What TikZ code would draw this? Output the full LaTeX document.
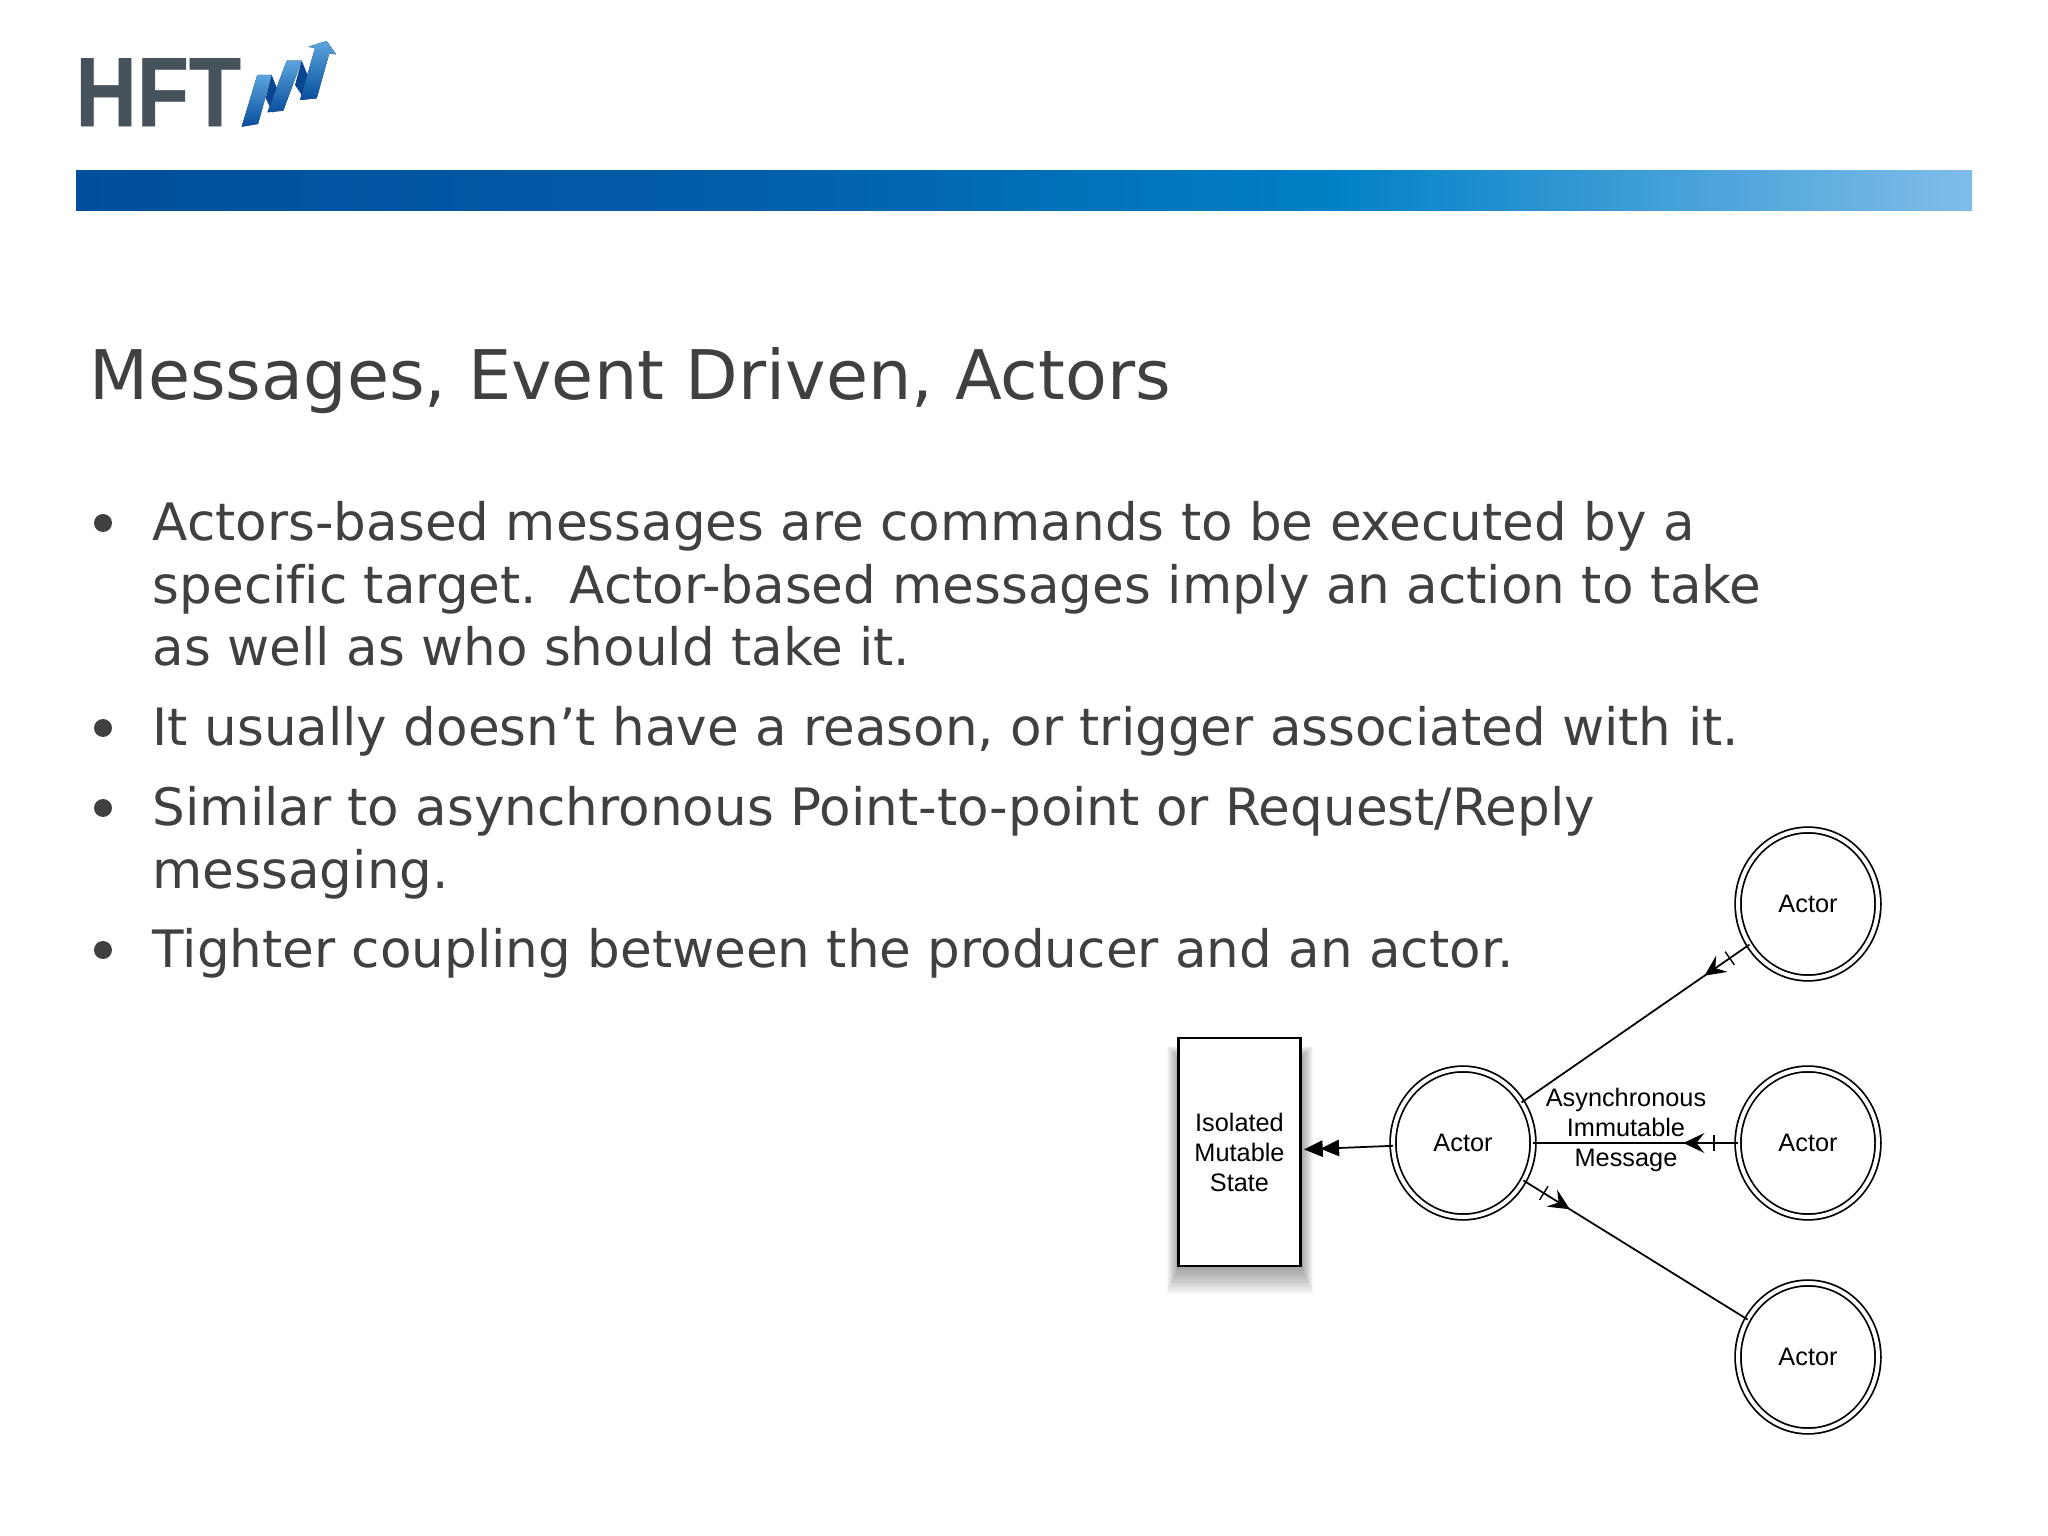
\documentclass[tikz,border=0pt]{standalone}
\usepackage{fontspec}
\setmainfont[Ligatures=NoCommon]{DejaVu Sans}
\newfontfamily\labelfont{Liberation Sans}
\newfontfamily\logofont[FakeBold=0.6]{Liberation Sans Bold}
\usetikzlibrary{arrows.meta,decorations.markings,shapes.geometric}

\pgfdeclarehorizontalshading{barshade}{100bp}{
  rgb(0bp)=(0,0.31,0.61);
  rgb(25bp)=(0,0.31,0.61);
  rgb(42bp)=(0.01,0.36,0.66);
  rgb(58bp)=(0,0.5,0.78);
  rgb(75bp)=(0.5,0.74,0.91);
  rgb(100bp)=(0.5,0.74,0.91)}

\definecolor{slidetext}{RGB}{64,64,64}
\definecolor{logotext}{RGB}{70,82,92}

\tikzset{
  titletext/.style={anchor=north west,inner sep=0.75pt,align=left,text=slidetext,font=\fontsize{29.2}{36}\selectfont},
  bodytext/.style={anchor=north west,inner sep=0.75pt,align=left,text=slidetext,font=\fontsize{22}{26.76}\selectfont},
  dotmark/.style={circle,fill=slidetext,inner sep=0pt,minimum size=0.27cm},
  actor/.style={ellipse,draw,double,line width=0.75pt,double distance=1.7pt,minimum width=2.1cm,minimum height=2.22cm,inner sep=0pt,outer sep=0pt,font=\labelfont\fontsize{10.8}{12.8}\selectfont},
  statebox/.style={rectangle,draw,line width=0.95pt,fill=white,minimum width=1.83cm,minimum height=3.42cm,inner sep=0pt,align=center,font=\labelfont\fontsize{10.8}{12.8}\selectfont},
  msglabel/.style={inner sep=0.75pt,align=center,font=\labelfont\fontsize{10.8}{12.8}\selectfont},
  msgline/.style={line width=0.75pt,postaction={decorate},decoration={markings,
    mark=at position 0.36cm with {\draw[line width=0.6pt] (0,-3.4pt) -- (0,3.4pt);},
    mark=at position 0.82cm with {\arrow{Stealth[length=9pt,width=8.5pt,inset=3.4pt]}}}},
  ribbonup/.style={bottom color={rgb,255:red,8;green,78;blue,158},top color={rgb,255:red,90;green,165;blue,222}},
  ribbondown/.style={fill={rgb,255:red,8;green,70;blue,145}}
}

\begin{document}
\begin{tikzpicture}[x=0.015cm, y=-0.015cm]
\useasboundingbox (0,0) rectangle (2048,1536);

\draw (75,58) node (logo) [anchor=north west,inner sep=0pt,text=logotext,font=\logofont\fontsize{42}{42}\selectfont] {\scalebox{0.865}[1]{HFT}};

\fill [ribbonup] (241.7,126.7) -- (257.3,75) -- (271.7,75) -- (258,124) -- cycle;
\fill [ribbondown] (271.7,75) -- (278.3,91.7) -- (272.7,112.7) -- (265.7,98.3) -- cycle;
\fill [ribbonup] (267.5,112.3) -- (286.7,60.7) -- (301.7,60.7) -- (283.3,110.7) -- cycle;
\fill [ribbondown] (301.7,60.7) -- (308.3,76.7) -- (305,100) -- (295,85) -- cycle;
\fill [ribbonup] (300,100) -- (315,48.3) -- (308.3,46.7) -- (326.7,41) -- (336,54.3) -- (329.3,53.3) -- (316.7,98.3) -- cycle;

\fill [shading=barshade] (76,171) rectangle (1972,211);

\draw (87,345) node (title) [titletext] {Messages, Event Driven, Actors};

\draw (103,523) node (dotA) [dotmark] {};
\draw (150.5,499) node (itemA) [bodytext] {Actors-based messages are commands to be executed by a\\specific target.\ \ Actor-based messages imply an action to take\\as well as who should take it.};
\draw (103,728) node (dotB) [dotmark] {};
\draw (150.5,704) node (itemB) [bodytext] {It usually doesn’t have a reason, or trigger associated with it.};
\draw (103,808) node (dotC) [dotmark] {};
\draw (150.5,784) node (itemC) [bodytext] {Similar to asynchronous Point-to-point or Request/Reply\\messaging.};
\draw (103,950) node (dotD) [dotmark] {};
\draw (150.5,926) node (itemD) [bodytext] {Tighter coupling between the producer and an actor.};

\foreach \k in {1,...,14}
  \fill [black,opacity=0.035] (1180-\k*0.9,1060-\k) rectangle (1299+\k*1.0,1262+\k*2.3);

\draw (1239.5,1152) node (state) [statebox] {Isolated\\Mutable\\State};
\draw (1463,1143) node (actorMain) [actor] {Actor};
\draw (1808,904) node (actorTop) [actor] {Actor};
\draw (1808,1143) node (actorMid) [actor] {Actor};
\draw (1808,1357) node (actorBot) [actor] {Actor};
\draw (1626,1130) node (msg) [msglabel] {Asynchronous\\Immutable\\Message};

\draw [line width=0.75pt,shorten >=1pt,-{Triangle[length=8pt,width=7pt,sep=-1pt]Triangle[length=8pt,width=7pt]}] (actorMain) -- (state);
\draw [msgline] (actorTop) -- (actorMain);
\draw [msgline] (actorMid) -- (actorMain);
\draw [msgline] (actorMain) -- (actorBot);

\end{tikzpicture}
\end{document}
